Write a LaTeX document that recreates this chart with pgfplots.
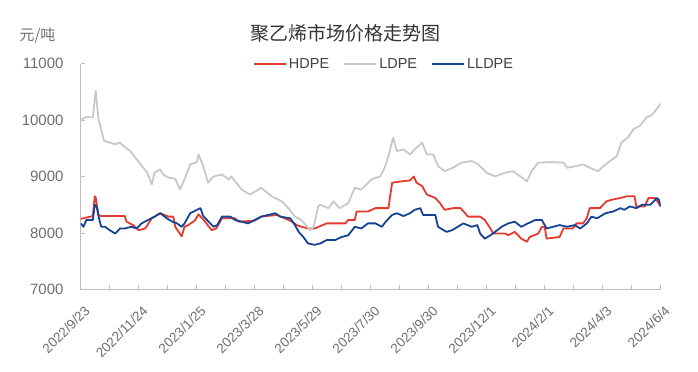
\documentclass[border=0pt]{standalone}
\usepackage{pgfplots}
\pgfplotsset{compat=1.18}
\usepackage{fontspec}
\setmainfont{Liberation Sans}
\newfontfamily\cjk{Noto Sans CJK SC}
\definecolor{hdpe}{RGB}{228,58,48}
\definecolor{ldpe}{RGB}{200,200,200}
\definecolor{lldpe}{RGB}{22,66,150}
\definecolor{axisgray}{RGB}{191,191,191}
\definecolor{labgray}{RGB}{110,110,110}
\begin{document}
\begin{tikzpicture}
\path[use as bounding box] (0bp,0bp) rectangle (698bp,372bp);
\node[font=\cjk\fontsize{19bp}{21bp}\selectfont, text=black!80] at (345bp,339bp) {聚乙烯市场价格走势图};
\node[font=\cjk\fontsize{15bp}{17bp}\selectfont, text=labgray] at (37.5bp,336bp) {元/吨};
\begin{axis}[
  at={(80.7bp,82.5bp)}, anchor=south west,
  scale only axis, width=580bp, height=226bp,
  xmin=0, xmax=620, ymin=7000, ymax=11000,
  axis x line=bottom, axis y line=left,
  axis line style={-, draw=axisgray, line width=1bp},
  xtick={0,62,...,620},
  minor xtick={31,93,...,589},
  xticklabels={2022/9/23,2022/11/24,2023/1/25,2023/3/28,2023/5/29,2023/7/30,2023/9/30,2023/12/1,2024/2/1,2024/4/3,2024/6/4},
  ytick={7000,8000,9000,10000,11000},
  scaled y ticks=false,
  tick align=inside,
  major tick length=4bp, minor tick length=4bp,
  tick style={draw=axisgray, line width=0.8bp},
  /pgf/number format/assume math mode=true,
  /pgf/number format/1000 sep={},
  xticklabel style={yshift=-15bp, xshift=3bp, rotate=45, anchor=north east, inner sep=0pt,
     font=\fontsize{13.5bp}{15bp}\selectfont, text=labgray},
  yticklabel style={anchor=east, inner sep=0pt, xshift=-17bp,
     font=\fontsize{15bp}{17bp}\selectfont, text=labgray},
  legend columns=-1,
  legend style={at={(0.523,0.998)}, anchor=center, draw=none, fill=none,
     font=\fontsize{14.5bp}{16bp}\selectfont, text=black!75,
     /tikz/every even column/.append style={column sep=12bp},
     nodes={inner sep=2bp}},
  legend image code/.code={\draw[#1, line width=2bp] (0bp,0bp) -- (32bp,0bp);},
  every axis plot/.append style={line width=1.8bp, line join=round},
]
\addplot[hdpe] coordinates {
(0,8250)(13,8300)(15,8650)(16,8630)(19,8320)(22,8300)(47,8300)(49,8200)(56,8140)(62,8050)(69,8080)(76,8260)(85,8350)(94,8290)(99,8290)(101,8110)(108,7940)(111,8110)(115,8140)(122,8220)(126,8330)(133,8200)(140,8050)(145,8080)(151,8260)(165,8260)(169,8200)(186,8220)(193,8290)(210,8320)(218,8260)(226,8200)(231,8140)(236,8110)(243,8080)(250,8080)(263,8170)(283,8170)(286,8230)(293,8230)(295,8380)(307,8380)(315,8440)(329,8440)(331,8680)(333,8890)(343,8915)(352,8930)(356,9000)(359,8890)(365,8830)(370,8680)(379,8620)(384,8530)(389,8410)(398,8440)(406,8440)(411,8350)(414,8290)(427,8290)(432,8230)(438,8080)(441,7990)(454,7990)(457,7960)(464,8020)(471,7900)(477,7845)(480,7930)(489,7990)(493,8110)(496,8110)(498,7900)(512,7930)(516,8080)(526,8080)(530,8170)(537,8170)(541,8260)(544,8440)(555,8440)(562,8560)(568,8590)(577,8620)(584,8650)(592,8650)(594,8470)(603,8470)(607,8620)(614,8620)(620,8470)
};
\addlegendentry{HDPE}
\addplot[ldpe] coordinates {
(0,10000)(5,10050)(13,10050)(16,10520)(19,10020)(25,9630)(31,9600)(37,9570)(42,9600)(47,9520)(53,9450)(60,9300)(71,9070)(76,8860)(79,9070)(85,9125)(88,9035)(94,8980)(101,8960)(106,8770)(111,8950)(117,9215)(124,9250)(126,9390)(131,9185)(136,8890)(142,9000)(151,9035)(158,8950)(161,9000)(172,8770)(181,8680)(193,8800)(204,8650)(215,8560)(222,8440)(229,8290)(236,8230)(245,8050)(249,8110)(254,8470)(256,8500)(265,8440)(270,8560)(277,8440)(286,8530)(293,8800)(300,8770)(311,8950)(320,9000)(325,9160)(329,9360)(334,9690)(338,9450)(345,9480)(352,9390)(357,9480)(365,9600)(370,9390)(377,9390)(382,9185)(389,9095)(398,9155)(407,9245)(418,9275)(425,9215)(434,9065)(443,9000)(453,9065)(462,9095)(470,9000)(477,8915)(482,9095)(489,9245)(502,9255)(516,9245)(520,9155)(530,9185)(537,9215)(544,9155)(553,9095)(559,9185)(566,9275)(573,9360)(578,9600)(585,9690)(591,9840)(598,9900)(605,10050)(610,10080)(616,10200)(620,10290)
};
\addlegendentry{LDPE}
\addplot[lldpe] coordinates {
(0,8170)(3,8110)(6,8230)(13,8230)(15,8500)(17,8470)(20,8230)(22,8110)(26,8110)(31,8050)(37,7990)(42,8080)(47,8080)(54,8110)(60,8080)(65,8170)(72,8230)(79,8290)(85,8350)(92,8260)(98,8200)(103,8170)(108,8110)(111,8170)(117,8350)(123,8400)(128,8440)(131,8300)(135,8230)(142,8110)(146,8140)(151,8290)(160,8290)(165,8230)(179,8170)(186,8230)(193,8290)(208,8350)(213,8290)(224,8260)(229,8140)(233,8020)(238,7930)(243,7815)(250,7790)(256,7815)(263,7875)(272,7875)(279,7930)(286,7960)(293,8110)(300,8080)(307,8170)(315,8170)(322,8110)(326,8200)(333,8320)(338,8350)(345,8300)(352,8350)(357,8410)(363,8440)(366,8320)(379,8320)(382,8110)(391,8020)(397,8050)(403,8110)(409,8170)(418,8110)(424,8140)(427,7990)(432,7900)(438,7960)(443,8020)(450,8110)(457,8170)(464,8200)(471,8110)(478,8170)(486,8230)(493,8230)(498,8080)(505,8110)(512,8140)(520,8110)(528,8140)(534,8080)(541,8170)(546,8290)(552,8260)(561,8350)(569,8380)(577,8440)(581,8410)(587,8470)(594,8440)(600,8500)(609,8500)(616,8620)(618,8590)(620,8470)
};
\addlegendentry{LLDPE}
\end{axis}
\end{tikzpicture}
\end{document}
